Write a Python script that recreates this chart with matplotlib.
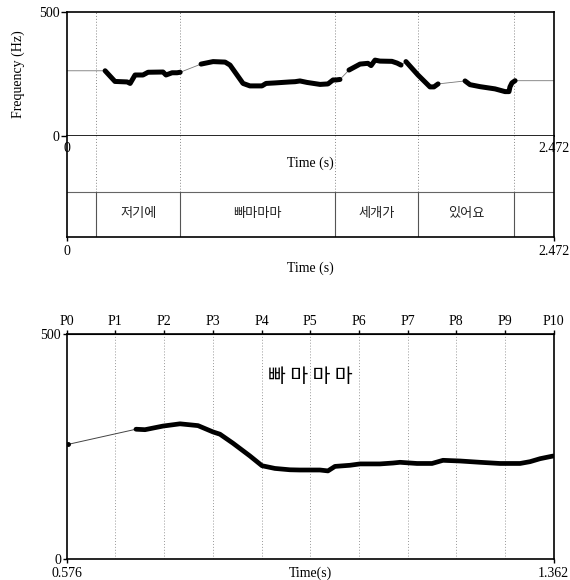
import numpy as np
import matplotlib
matplotlib.use('Agg')
import matplotlib.pyplot as plt

plt.rcParams['font.family'] = ['Liberation Serif', 'Noto Sans CJK KR']
plt.rcParams['font.size'] = 10

# ---------------- data: whole utterance ----------------
total_dur = 2.472
pitch_max = 500
seg1_t = [0.195, 0.245, 0.307, 0.322, 0.347, 0.387, 0.413, 0.489, 0.504, 0.535, 0.560, 0.576]
seg1_hz = [263, 220, 218, 212, 246, 246, 257, 258, 246, 255, 255, 257]
seg2_t = [0.682, 0.743, 0.804, 0.829, 0.895, 0.930, 0.991, 1.012, 1.057, 1.133, 1.159, 1.184,
          1.220, 1.286, 1.326, 1.352, 1.367, 1.387]
seg2_hz = [290, 300, 298, 286, 212, 202, 202, 212, 214, 218, 219, 222, 216, 208, 210, 226, 226, 228]
seg3_t = [1.433, 1.489, 1.529, 1.545, 1.565, 1.590, 1.651, 1.677, 1.697]
seg3_hz = [266, 290, 293, 284, 306, 302, 301, 294, 286]
seg4_t = [1.722, 1.783, 1.844, 1.864, 1.885]
seg4_hz = [300, 246, 198, 198, 210]
seg5_t = [2.022, 2.047, 2.098, 2.174, 2.225, 2.245, 2.250, 2.260, 2.276]
seg5_hz = [222, 207, 199, 190, 179, 179, 198, 214, 223]
edge_hz_start = 263
edge_hz_end = 223

word_bounds = [0.150, 0.576, 1.362, 1.785, 2.272]
words = ['저기에', '빠마마마', '세개가', '있어요']

# ---------------- data: zoomed word ----------------
zoom_start, zoom_end = 0.576, 1.362
zoom_times = [0.5786, 0.6878, 0.7024, 0.7314, 0.7589, 0.7879, 0.8121, 0.8233, 0.8443, 0.8714,
              0.8912, 0.9120, 0.9362, 0.9524, 0.9847, 0.9976, 1.0090, 1.0332, 1.0493, 1.0816,
              1.1026, 1.1139, 1.1414, 1.1656, 1.1833, 1.2108, 1.2431, 1.2754, 1.3077, 1.3238,
              1.3400, 1.3609]
zoom_hz = [254.5, 288, 287, 295, 300, 296, 282, 277, 257, 229,
           207, 201, 198, 197.5, 197.5, 195.5, 205.5, 208, 211, 211,
           213, 214.6, 212, 212, 219, 217.5, 214.6, 212, 212, 216,
           222.6, 228.5]
p_labels = ['P0', 'P1', 'P2', 'P3', 'P4', 'P5', 'P6', 'P7', 'P8', 'P9', 'P10']
zoom_title = '빠 마 마 마'

KR = ['Noto Sans CJK KR', 'DejaVu Sans']

fig = plt.figure(figsize=(5.7, 5.8), dpi=100)
W, H = 570.0, 580.0
L, R = 66.7, 553.7


def rect(top, bottom):
    return [L / W, 1 - bottom / H, (R - L) / W, (bottom - top) / H]


# ---------- pitch axes (top) ----------
ax1 = fig.add_axes(rect(12, 136))
segs = [(seg1_t, seg1_hz), (seg2_t, seg2_hz), (seg3_t, seg3_hz), (seg4_t, seg4_hz), (seg5_t, seg5_hz)]
thin_t = [0.0] + [t for s in segs for t in s[0]] + [total_dur]
thin_h = [edge_hz_start] + [h for s in segs for h in s[1]] + [edge_hz_end]
ax1.plot(thin_t, thin_h, color='#777777', lw=0.6, zorder=2)
for st, sh in segs:
    ax1.plot(st, sh, color='black', lw=3.6, solid_capstyle='round',
             solid_joinstyle='round', zorder=3)
for b in word_bounds:
    ax1.axvline(b, color='#888888', lw=0.7, ls=(0, (1, 2)), zorder=1)
ax1.set_xlim(0, total_dur)
ax1.set_ylim(0, pitch_max)
ax1.set_xticks([])
ax1.set_yticks([0, pitch_max])
ax1.tick_params(axis='y', direction='out', length=4, width=1, pad=1, labelsize=10)
ax1.set_ylabel('Frequency (Hz)', fontsize=10)
ax1.yaxis.set_label_coords((25 - L) / (R - L), 0.5)
for sp in ax1.spines.values():
    sp.set_linewidth(1.2)

# ---------- tier axes ----------
ax2 = fig.add_axes(rect(136, 237))
ax2.set_xlim(0, total_dur)
ax2.set_ylim(0, 1)
tier_y = (237 - 192) / 101.0
ax2.axhline(tier_y, color='#666666', lw=0.8)
for b in word_bounds:
    ax2.plot([b, b], [tier_y, 1], color='#888888', lw=0.7, ls=(0, (1, 2)))
    ax2.plot([b, b], [0, tier_y], color='#555555', lw=0.8)
for w, a, b in zip(words, word_bounds[:-1], word_bounds[1:]):
    ax2.text((a + b) / 2, (237 - 214) / 101.0, w, ha='center', va='center',
             fontsize=9.5, family=KR, color='#222222')
ax2.text(0, (237 - 148) / 101.0, '0', ha='center', va='center', fontsize=10)
ax2.text(total_dur, (237 - 148) / 101.0, f'{total_dur}', ha='center', va='center', fontsize=10)
ax2.text(total_dur / 2, (237 - 163) / 101.0, 'Time (s)', ha='center', va='center', fontsize=10)
ax2.spines['top'].set_visible(False)
for s in ['left', 'right', 'bottom']:
    ax2.spines[s].set_linewidth(1.2)
ax2.set_yticks([])
ax2.set_xticks([0, total_dur])
ax2.set_xticklabels(['0', f'{total_dur}'])
ax2.tick_params(axis='x', direction='out', length=3, width=1, pad=3, labelsize=10)
ax2.set_xlabel('Time (s)', fontsize=10, labelpad=2)

# ---------- zoomed axes (bottom) ----------
ax3 = fig.add_axes(rect(333.7, 559))
p_pos = np.linspace(zoom_start, zoom_end, len(p_labels))
for p in p_pos[1:-1]:
    ax3.axvline(p, color='#999999', lw=0.7, ls=(0, (1, 2)), zorder=1)
ax3.plot(zoom_times[:2], zoom_hz[:2], color='#444444', lw=0.7, zorder=2)
ax3.plot(zoom_times[0], zoom_hz[0], 'o', color='black', ms=2.5, zorder=3)
ax3.plot(zoom_times[1:], zoom_hz[1:], color='black', lw=3.4, solid_capstyle='round',
         solid_joinstyle='round', zorder=3)
ax3.text(0.9695, 404.6, zoom_title, ha='center', va='center', fontsize=14, family=KR)
ax3.set_xlim(zoom_start, zoom_end)
ax3.set_ylim(0, pitch_max)
ax3.set_yticks([0, pitch_max])
ax3.set_xticks([zoom_start, zoom_end])
ax3.set_xticklabels([f'{zoom_start}', f'{zoom_end}'])
ax3.tick_params(axis='y', direction='out', length=3, width=1, pad=1, labelsize=10)
ax3.tick_params(axis='x', direction='out', length=3, width=1, pad=3, labelsize=10)
ax3.text(0.5, -0.062, 'Time(s)', transform=ax3.transAxes, ha='center', va='center', fontsize=10)
top = ax3.secondary_xaxis('top')
top.set_xticks(p_pos)
top.set_xticklabels(p_labels)
top.tick_params(direction='out', length=3, width=1, pad=1, labelsize=10)
for sp in ax3.spines.values():
    sp.set_linewidth(1.2)

fig.savefig('out.png', dpi=100)
